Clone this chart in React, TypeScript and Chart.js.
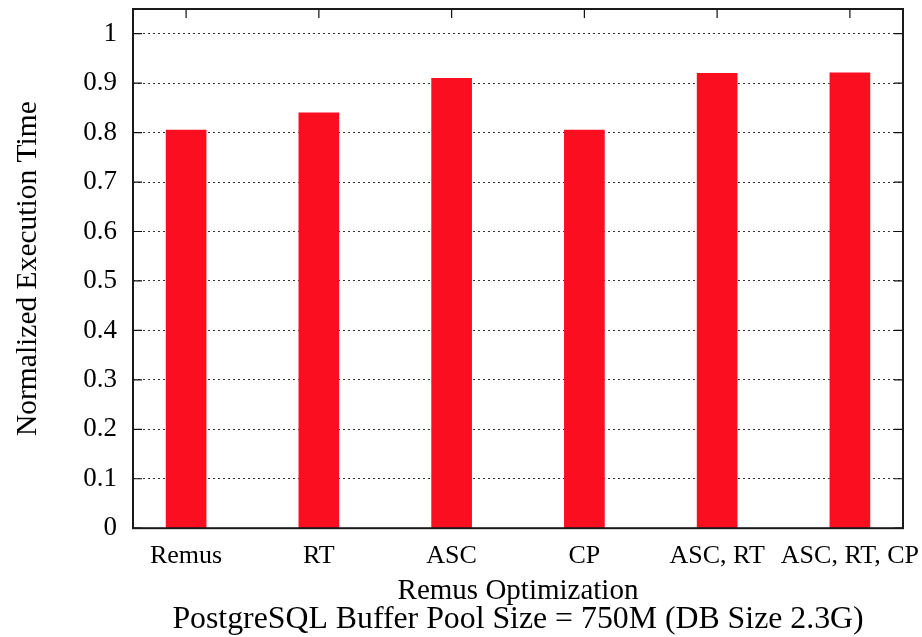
import React, { useEffect, useRef } from 'react';
import { Chart, registerables } from 'chart.js';

Chart.register(...registerables);

// Normalized execution time per Remus optimization setting
const categories = ['Remus', 'RT', 'ASC', 'CP', 'ASC, RT', 'ASC, RT, CP'];
const execTime = [0.805, 0.84, 0.91, 0.805, 0.92, 0.921];
const yTickValues = [0, 0.1, 0.2, 0.3, 0.4, 0.5, 0.6, 0.7, 0.8, 0.9, 1];
const xTitle = 'Remus Optimization';
const caption = 'PostgreSQL Buffer Pool Size = 750M (DB Size 2.3G)';
const yTitle = 'Normalized Execution Time';

const FONT = "'Liberation Serif', 'Times New Roman', serif";
const BAR_RED = '#fb0e1f';

// Gnuplot-style frame: closed border plus inward tick marks on every side
const framePlugin = {
  id: 'frame',
  beforeDatasetsDraw(chart: any) {
    const { ctx, chartArea, scales } = chart;
    const len = 9;
    ctx.save();
    ctx.strokeStyle = '#111';
    ctx.lineWidth = 1.2;
    ctx.beginPath();
    scales.x.ticks.forEach((t: any) => {
      const x = scales.x.getPixelForValue(t.value);
      ctx.moveTo(x, chartArea.bottom);
      ctx.lineTo(x, chartArea.bottom - len);
    });
    ctx.stroke();
    ctx.restore();
  },
  afterDatasetsDraw(chart: any) {
    const { ctx, chartArea, scales } = chart;
    const { left, right, top, bottom } = chartArea;
    const len = 9;
    ctx.save();
    ctx.strokeStyle = '#111';
    ctx.lineWidth = 1.2;
    ctx.beginPath();
    scales.y.ticks.forEach((t: any) => {
      const y = scales.y.getPixelForValue(t.value);
      ctx.moveTo(left, y);
      ctx.lineTo(left + len, y);
      ctx.moveTo(right, y);
      ctx.lineTo(right - len, y);
    });
    scales.x.ticks.forEach((t: any) => {
      const x = scales.x.getPixelForValue(t.value);
      ctx.moveTo(x, top);
      ctx.lineTo(x, top + len);
    });
    ctx.stroke();
    ctx.lineWidth = 2;
    ctx.strokeStyle = '#1a1a1a';
    ctx.strokeRect(left, top, right - left, bottom - top);
    ctx.restore();
  },
};

export default function App() {
  const canvasRef = useRef<HTMLCanvasElement | null>(null);

  useEffect(() => {
    if (!canvasRef.current) return;
    const chart = new Chart(canvasRef.current, {
      type: 'bar',
      data: {
        datasets: [
          {
            label: 'Normalized Execution Time',
            data: execTime.map((v, i) => ({ x: i, y: v })),
            backgroundColor: BAR_RED,
            borderWidth: 0,
            barThickness: 40,
          },
        ],
      },
      options: {
        responsive: false,
        animation: false,
        layout: { padding: { top: 9, right: 19, left: 0, bottom: 0 } },
        plugins: {
          legend: { display: false },
          tooltip: { enabled: false },
          title: {
            display: true,
            position: 'bottom',
            fullSize: false,
            text: caption,
            color: '#000',
            font: { family: FONT, size: 31.8, weight: 'normal', lineHeight: 1 },
            padding: { top: 0, bottom: 1 },
          },
        },
        scales: {
          x: {
            type: 'linear',
            offset: false,
            bounds: 'data',
            min: -0.4,
            max: 5.4,
            afterBuildTicks: (scale: any) => {
              scale.ticks = categories.map((_, i) => ({ value: i }));
            },
            afterFit: (scale: any) => {
              scale.height = 76;
              scale.paddingLeft = 0;
              scale.paddingRight = 0;
            },
            grid: { display: false, drawTicks: false },
            border: { display: false },
            ticks: {
              autoSkip: false,
              maxRotation: 0,
              padding: 12,
              color: '#000',
              font: { family: FONT, size: 26 },
              callback: (v: any) => categories[v as number] ?? '',
            },
            title: {
              display: true,
              text: xTitle,
              color: '#000',
              font: { family: FONT, size: 29, lineHeight: 0.85 },
              padding: { top: 0, bottom: 0 },
            },
          },
          y: {
            type: 'linear',
            bounds: 'data',
            min: 0,
            max: 1.05,
            afterBuildTicks: (scale: any) => {
              scale.ticks = yTickValues.map((v) => ({ value: v }));
            },
            afterFit: (scale: any) => {
              scale.width = 133;
              scale.paddingTop = 0;
              scale.paddingBottom = 0;
            },
            grid: {
              color: '#333',
              lineWidth: 1,
              drawTicks: false,
            },
            border: { display: false, dash: [2, 3] },
            ticks: {
              padding: 16,
              color: '#000',
              font: { family: FONT, size: 27 },
              callback: (v: any) => String(Math.round(Number(v) * 10) / 10),
            },
            title: {
              display: true,
              text: yTitle,
              color: '#000',
              font: { family: FONT, size: 29.5, lineHeight: 1 },
              padding: { top: 13, bottom: 0 },
            },
          },
        },
      },
      plugins: [framePlugin],
    });
    return () => chart.destroy();
  }, []);

  return (
    <div style={{ position: 'fixed', left: 0, top: 0, width: 922, height: 637, background: '#fff' }}>
      <canvas ref={canvasRef} width={922} height={637} style={{ display: 'block' }} />
    </div>
  );
}
